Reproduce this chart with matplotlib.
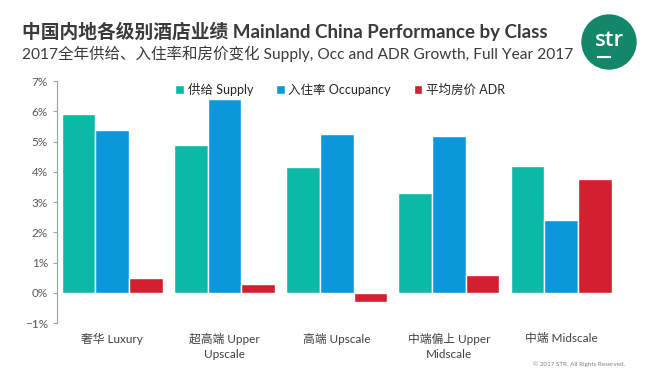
import matplotlib.pyplot as plt
from matplotlib.patches import Circle
from matplotlib.ticker import PercentFormatter

plt.rcParams['font.family'] = ['Lato', 'Noto Sans CJK SC', 'DejaVu Sans']

classes = ['奢华 Luxury', '超高端 Upper\nUpscale', '高端 Upscale', '中端偏上 Upper\nMidscale', '中端 Midscale']
supply = [5.9, 4.9, 4.15, 3.3, 4.2]
occupancy = [5.4, 6.4, 5.25, 5.2, 2.4]
adr = [0.5, 0.3, -0.3, 0.6, 3.75]
series_labels = ['供给 Supply', '入住率 Occupancy', '平均房价 ADR']
colors = ['#0ABAA6', '#0A98DA', '#D3202E']

W, H = 648, 374
fig = plt.figure(figsize=(6.48, 3.74), dpi=100)
ax = fig.add_axes([0.088, 0.136, 0.87, 0.647])

x = range(len(classes))
w = 0.3
for i, (vals, lab, c) in enumerate(zip([supply, occupancy, adr], series_labels, colors)):
    ax.bar([k + (i - 1) * w for k in x], vals, width=w, color=c, edgecolor='white',
           linewidth=1, label=lab)

ax.set_ylim(-1, 7)
ax.set_xlim(-0.49, 4.53)
ax.yaxis.set_major_formatter(PercentFormatter(decimals=0))
ax.set_yticks(range(-1, 8))
ax.set_xticks(list(x))
ax.set_xticklabels(classes, fontsize=8.5, color='#404040', linespacing=1.5)
ax.tick_params(axis='x', length=0, pad=7)
ax.tick_params(axis='y', labelsize=8.5, labelcolor='#595959', length=3, color='#A0A0A0')
for s in ['top', 'right', 'bottom']:
    ax.spines[s].set_visible(False)
ax.spines['left'].set_color('#A0A0A0')

leg = ax.legend(loc='upper left', bbox_to_anchor=(0.19, 1.04), ncol=3, frameon=False,
                fontsize=9, handlelength=0.7, handleheight=0.7, handletextpad=0.3,
                columnspacing=1.8)
for t in leg.get_texts():
    t.set_color('#262626')

title = fig.text(22 / W, 1 - 31 / H, '中国内地各级别酒店业绩 Mainland China Performance by Class',
                 fontsize=13, fontweight='bold', color='#3a3a3a', va='center')
subtitle = fig.text(22 / W, 1 - 54 / H, '2017全年供给、入住率和房价变化 Supply, Occ and ADR Growth, Full Year 2017',
                    fontsize=11, color='#3a3a3a', va='center')

# scale the header texts to the widths seen in the reference
r = fig.canvas.get_renderer()
for txt, target in [(title, 525), (subtitle, 552)]:
    cur = txt.get_window_extent(r).width
    txt.set_fontsize(txt.get_fontsize() * target / cur)

# STR logo
logo = Circle((609 / 100, (H - 42) / 100), 0.27, transform=fig.dpi_scale_trans, color='#13876A')
fig.patches.append(logo)
fig.text(609 / W, 1 - 41 / H, 'str', fontsize=16, fontweight='semibold', color='white',
         ha='center', va='center', family=['Open Sans', 'DejaVu Sans'])
fig.add_artist(plt.Line2D([598 / W, 610 / W], [1 - 57 / H, 1 - 57 / H], color='white', lw=1.5))

fig.text(0.965, 0.025, '© 2017 STR. All Rights Reserved.', fontsize=4.5, color='#808080',
         ha='right', va='center')

fig.savefig('out.png', dpi=100)
